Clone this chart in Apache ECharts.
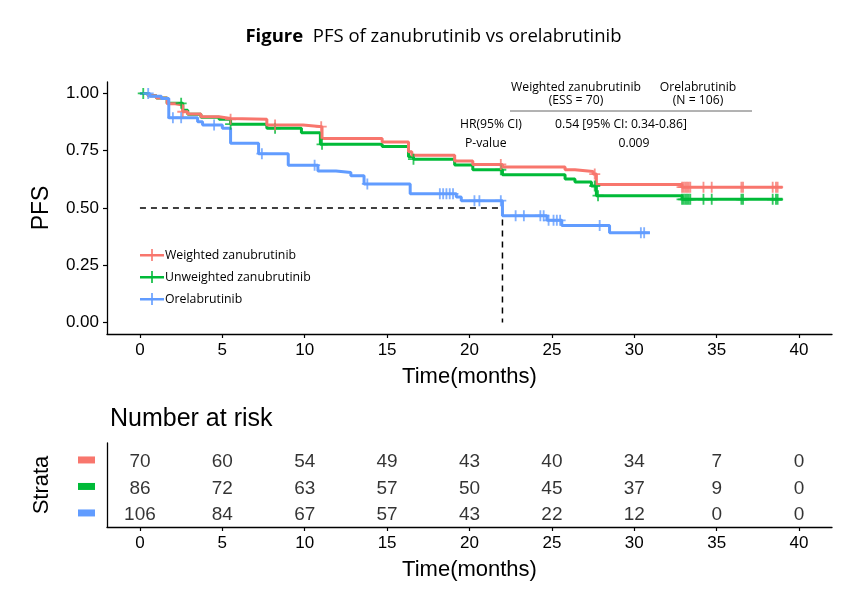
<!DOCTYPE html>
<html><head><meta charset="utf-8">
<script src="https://cdn.jsdelivr.net/npm/echarts@6/dist/echarts.min.js"></script>
<style>html,body{margin:0;padding:0;background:#fff}#c{width:867px;height:608px}</style>
</head><body><div id="c"></div>
<script>
// ---- data ----
const xTicks = [0,5,10,15,20,25,30,35,40];
const yTicks = [0,0.25,0.5,0.75,1.0];

const weightedT = [0,0.5,1.0,1.65,2.15,2.6,2.9,3.7,4.8,5.5,7.7,9.9,11.05,14.7,16.3,16.5,19.1,20.2,22.0,25.8,26.4,27.5,27.7,32.9,39.0];
const weightedS = [1.0,0.99,0.98,0.955,0.949,0.92,0.91,0.898,0.891,0.887,0.862,0.855,0.803,0.788,0.746,0.73,0.705,0.69,0.679,0.667,0.659,0.648,0.603,0.591,0.591];
const weightedCens = [2.6,5.5,8.2,11.0,21.9,27.6,32.9,33.0,33.1,33.2,33.3,33.4,34.2,34.7,36.5,36.6,38.4,38.6,38.7];

const unweightedT = [0,0.5,1.0,1.65,2.6,2.9,3.7,4.8,5.5,7.7,9.8,10.95,14.7,16.3,16.6,19.1,20.2,22.0,25.8,26.4,27.4,27.7,32.9,39.0];
const unweightedS = [1.0,0.99,0.98,0.957,0.927,0.909,0.896,0.887,0.866,0.848,0.829,0.778,0.768,0.724,0.713,0.688,0.667,0.645,0.627,0.613,0.596,0.554,0.538,0.538];
const unweightedCens = [0.2,2.5,5.5,8.2,11.05,16.6,21.9,27.6,27.8,32.9,33.0,33.1,33.2,33.3,33.4,34.2,34.7,36.5,36.6,38.4,38.6,38.7];

const oreT = [0,0.6,1.3,1.75,3.5,3.8,5.0,5.5,7.2,9.0,10.8,11.9,12.8,13.6,16.4,19.2,19.5,22.0,24.7,25.6,28.5,30.95];
const oreS = [1.0,0.988,0.978,0.894,0.877,0.862,0.848,0.783,0.737,0.687,0.662,0.655,0.641,0.605,0.562,0.548,0.532,0.466,0.446,0.424,0.392,0.392];
const oreCens = [0.5,2.0,2.5,4.5,7.4,10.6,13.8,18.2,18.4,18.6,18.8,19.0,20.3,20.6,21.9,22.8,23.3,24.3,24.5,24.8,25.1,25.3,25.5,27.9,30.4,30.6];

const medianTime = 22.0;
const medianLevel = 0.5;

const riskTimes = [0,5,10,15,20,25,30,35,40];
const riskWeighted = [70,60,54,49,43,40,34,7,0];
const riskUnweighted = [86,72,63,57,50,45,37,9,0];
const riskOre = [106,84,67,57,43,22,12,0,0];

const names = ['Weighted zanubrutinib','Unweighted zanubrutinib','Orelabrutinib'];
const colors = ['#F8766D','#00BA38','#619CFF'];

// ---- helpers ----
function curve(T,S){ return T.map((t,i)=>[t,S[i]]); }
function survAt(T,S,t){ let v=S[0]; for(let i=0;i<T.length;i++){ if(T[i]<=t) v=S[i]; } return v; }
function cens(T,S,C){ return C.map(t=>[t, survAt(T,S,t)]); }
function risk(vals,row){ return riskTimes.map((t,i)=>[t,row,vals[i]]); }

const plusPath = 'path://M5,0 L7,0 L7,12 L5,12 Z M0,5 L12,5 L12,7 L0,7 Z';
const legendIcon = 'path://M0,5 L24,5 L24,7.4 L0,7.4 Z M11.2,0 L12.8,0 L12.8,12 L11.2,12 Z';
const axisFont = 'Liberation Sans';
const txtFont = 'Open Sans';
const annFont = '12.2px "Open Sans"';

const curves = [[weightedT,weightedS,weightedCens],[unweightedT,unweightedS,unweightedCens],[oreT,oreS,oreCens]];
const series = [];
[1,0,2].forEach(k=>{
  const [T,S,C] = curves[k];
  series.push({name:names[k], type:'line', step:'end', xAxisIndex:0, yAxisIndex:0,
    data:curve(T,S), showSymbol:false, symbol:'none', lineStyle:{color:colors[k], width:3}, itemStyle:{color:colors[k]}, z:3, silent:true});
});
[1,0,2].forEach(k=>{
  const [T,S,C] = curves[k];
  series.push({name:names[k]+' censored', type:'scatter', xAxisIndex:0, yAxisIndex:0,
    data:cens(T,S,C), symbol:plusPath, symbolSize:11, itemStyle:{color:colors[k]}, z:4, silent:true});
});
series.push({name:'median', type:'line', xAxisIndex:0, yAxisIndex:0,
  data:[[0,medianLevel],[medianTime,medianLevel],[medianTime,0]], symbol:'none',
  lineStyle:{color:'#000', width:1.5, type:[6,5]}, z:2, silent:true});
[riskWeighted,riskUnweighted,riskOre].forEach((vals,k)=>{
  series.push({name:'risk'+k, type:'scatter', xAxisIndex:1, yAxisIndex:1, data:risk(vals,k+1),
    symbolSize:1, itemStyle:{color:'transparent'}, silent:true,
    label:{show:true, position:'inside', offset:[0,2], formatter:p=>p.value[2], fontSize:19, color:'#000', fontFamily:axisFont}});
});

const xAxisCommon = (gi)=>({
  type:'value', gridIndex:gi, min:-2, max:42,
  axisLine:{show:true, onZero:false, lineStyle:{color:'#000', width:1.3}},
  axisTick:{show:true, customValues:xTicks, length:4, lineStyle:{color:'#000', width:1.2}},
  axisLabel:{customValues:xTicks, fontSize:17, color:'#000', fontFamily:axisFont, margin:8},
  splitLine:{show:false},
  name:'Time(months)', nameLocation:'middle', nameGap:32,
  nameTextStyle:{fontSize:22, color:'#000', fontFamily:axisFont}
});

const option = {
  animation:false,
  backgroundColor:'#fff',
  title:{text:'{b|Figure}  PFS of zanubrutinib vs orelabrutinib', left:'center', top:22,
    textStyle:{fontSize:18.5, fontWeight:'normal', color:'#000', fontFamily:txtFont,
      rich:{b:{fontSize:18.5, fontWeight:'bold', color:'#000', fontFamily:txtFont}}}},
  grid:[{left:107, right:35, top:82, bottom:274},{left:107, right:35, top:443, bottom:81}],
  legend:{data:names.map((n,i)=>({name:n, icon:legendIcon})), orient:'vertical', left:135, top:244,
    itemWidth:24, itemHeight:12, itemGap:10, selectedMode:false,
    textStyle:{fontFamily:txtFont, fontSize:12.3, color:'#000', padding:[0,0,0,-4]}},
  xAxis:[xAxisCommon(0), xAxisCommon(1)],
  yAxis:[
    {type:'value', gridIndex:0, min:-0.05, max:1.05,
     axisLine:{show:true, onZero:false, lineStyle:{color:'#000', width:1.3}},
     axisTick:{show:true, customValues:yTicks, length:4, lineStyle:{color:'#000', width:1.2}},
     axisLabel:{customValues:yTicks, formatter:v=>v.toFixed(2), fontSize:17, color:'#000', fontFamily:axisFont, margin:8},
     splitLine:{show:false},
     name:'PFS', nameLocation:'middle', nameGap:54, nameTextStyle:{fontSize:23, color:'#000', fontFamily:axisFont}},
    {type:'value', gridIndex:1, min:0.36, max:3.53, inverse:true,
     axisLine:{show:true, onZero:false, lineStyle:{color:'#000', width:1.3}},
     axisTick:{show:false},
     axisLabel:{customValues:[1,2,3], margin:12, formatter:v=>'{s'+v+'| }',
       rich:{s1:{width:17,height:7,backgroundColor:colors[0]}, s2:{width:17,height:7,backgroundColor:colors[1]}, s3:{width:17,height:7,backgroundColor:colors[2]}}},
     splitLine:{show:false},
     name:'Strata', nameLocation:'middle', nameGap:54, nameTextStyle:{fontSize:22, color:'#000', fontFamily:axisFont}}
  ],
  graphic:[
    {type:'text', left:110, top:407, style:{text:'Number at risk', font:'25px "Liberation Sans"', fill:'#000'}},
    {type:'text', x:576, y:88, style:{text:'Weighted zanubrutinib', font:annFont, fill:'#000', align:'center', verticalAlign:'middle'}},
    {type:'text', x:576, y:101, style:{text:'(ESS = 70)', font:annFont, fill:'#000', align:'center', verticalAlign:'middle'}},
    {type:'text', x:698, y:88, style:{text:'Orelabrutinib', font:annFont, fill:'#000', align:'center', verticalAlign:'middle'}},
    {type:'text', x:698, y:101, style:{text:'(N = 106)', font:annFont, fill:'#000', align:'center', verticalAlign:'middle'}},
    {type:'line', shape:{x1:510, y1:111, x2:752, y2:111}, style:{stroke:'#666', lineWidth:1}},
    {type:'text', x:460, y:125, style:{text:'HR(95% CI)', font:annFont, fill:'#000', align:'left', verticalAlign:'middle'}},
    {type:'text', x:621, y:125, style:{text:'0.54 [95% CI: 0.34-0.86]', font:annFont, fill:'#000', align:'center', verticalAlign:'middle'}},
    {type:'text', x:465, y:144, style:{text:'P-value', font:annFont, fill:'#000', align:'left', verticalAlign:'middle'}},
    {type:'text', x:634, y:144, style:{text:'0.009', font:annFont, fill:'#000', align:'center', verticalAlign:'middle'}}
  ],
  series:series
};
echarts.init(document.getElementById('c')).setOption(option);
</script>
</body></html>
